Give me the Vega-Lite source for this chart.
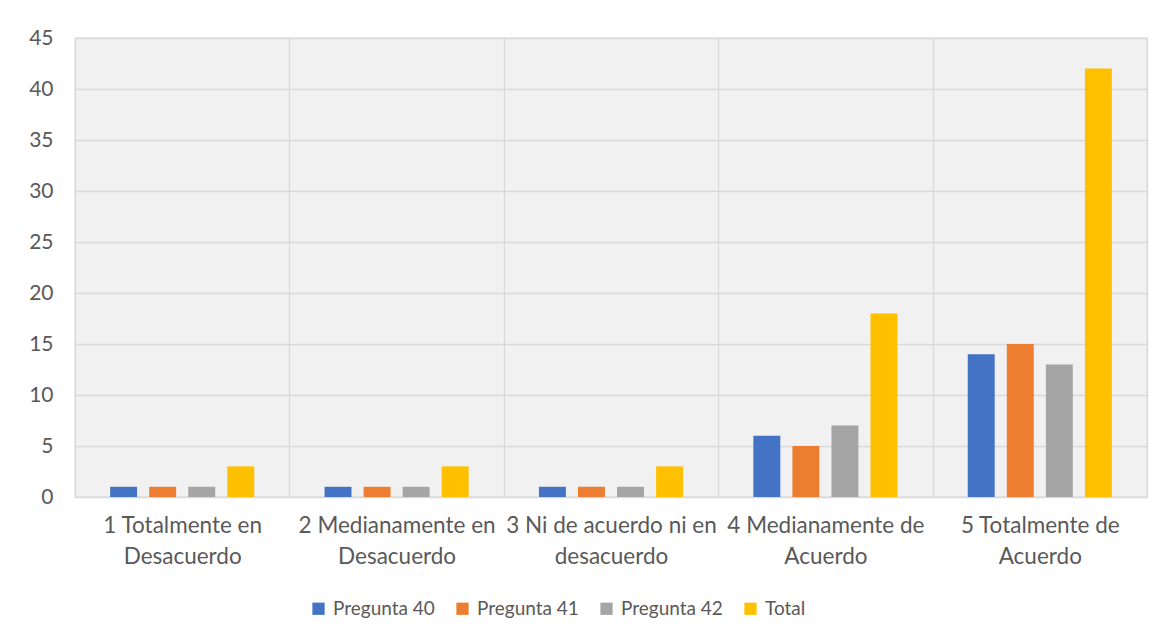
{
  "$schema": "https://vega.github.io/schema/vega-lite/v6.json",
  "width": 1072,
  "height": 459,
  "autosize": {"type": "none"},
  "padding": {"left": 75, "top": 38, "right": 15, "bottom": 146},
  "background": "white",
  "data": {
    "values": [
      {"categoria": "1 Totalmente en Desacuerdo", "serie": "Pregunta 40", "valor": 1},
      {"categoria": "1 Totalmente en Desacuerdo", "serie": "Pregunta 41", "valor": 1},
      {"categoria": "1 Totalmente en Desacuerdo", "serie": "Pregunta 42", "valor": 1},
      {"categoria": "1 Totalmente en Desacuerdo", "serie": "Total", "valor": 3},
      {"categoria": "2 Medianamente en Desacuerdo", "serie": "Pregunta 40", "valor": 1},
      {"categoria": "2 Medianamente en Desacuerdo", "serie": "Pregunta 41", "valor": 1},
      {"categoria": "2 Medianamente en Desacuerdo", "serie": "Pregunta 42", "valor": 1},
      {"categoria": "2 Medianamente en Desacuerdo", "serie": "Total", "valor": 3},
      {"categoria": "3 Ni de acuerdo ni en desacuerdo", "serie": "Pregunta 40", "valor": 1},
      {"categoria": "3 Ni de acuerdo ni en desacuerdo", "serie": "Pregunta 41", "valor": 1},
      {"categoria": "3 Ni de acuerdo ni en desacuerdo", "serie": "Pregunta 42", "valor": 1},
      {"categoria": "3 Ni de acuerdo ni en desacuerdo", "serie": "Total", "valor": 3},
      {"categoria": "4 Medianamente de Acuerdo", "serie": "Pregunta 40", "valor": 6},
      {"categoria": "4 Medianamente de Acuerdo", "serie": "Pregunta 41", "valor": 5},
      {"categoria": "4 Medianamente de Acuerdo", "serie": "Pregunta 42", "valor": 7},
      {"categoria": "4 Medianamente de Acuerdo", "serie": "Total", "valor": 18},
      {"categoria": "5 Totalmente de Acuerdo", "serie": "Pregunta 40", "valor": 14},
      {"categoria": "5 Totalmente de Acuerdo", "serie": "Pregunta 41", "valor": 15},
      {"categoria": "5 Totalmente de Acuerdo", "serie": "Pregunta 42", "valor": 13},
      {"categoria": "5 Totalmente de Acuerdo", "serie": "Total", "valor": 42}
    ]
  },
  "mark": {"type": "bar"},
  "encoding": {
    "x": {
      "field": "categoria",
      "type": "nominal",
      "sort": null,
      "scale": {"paddingInner": 0, "paddingOuter": 0},
      "axis": {
        "title": null,
        "labelAngle": 0,
        "grid": true,
        "tickBand": "extent",
        "gridColor": "#d9d9d9",
        "gridWidth": 1.3,
        "domain": false,
        "ticks": false,
        "labelExpr": "[slice(datum.label, 0, lastindexof(datum.label, ' ')), slice(datum.label, lastindexof(datum.label, ' ') + 1)]",
        "labelFont": "Lato",
        "labelFontSize": 22.5,
        "labelColor": "#595959",
        "labelPadding": 17,
        "labelLineHeight": 31,
        "labelBaseline": "top",
        "labelLimit": 300
      }
    },
    "xOffset": {
      "field": "serie",
      "sort": null,
      "scale": {"paddingInner": 0.31, "paddingOuter": 0.9}
    },
    "y": {
      "field": "valor",
      "type": "quantitative",
      "scale": {"domain": [0, 45], "nice": false},
      "axis": {
        "title": null,
        "values": [0, 5, 10, 15, 20, 25, 30, 35, 40, 45],
        "grid": true,
        "gridColor": "#d9d9d9",
        "gridWidth": 1.3,
        "domain": false,
        "ticks": false,
        "labelFont": "Lato",
        "labelFontSize": 21,
        "labelColor": "#595959",
        "labelPadding": 22
      }
    },
    "color": {
      "field": "serie",
      "type": "nominal",
      "sort": null,
      "scale": {
        "domain": ["Pregunta 40", "Pregunta 41", "Pregunta 42", "Total"],
        "range": ["#4472C4", "#ED7D31", "#A5A5A5", "#FFC000"]
      },
      "legend": {
        "title": null,
        "orient": "none",
        "direction": "horizontal",
        "legendX": 234,
        "legendY": 561,
        "symbolType": "square",
        "symbolSize": 150,
        "symbolStrokeWidth": 0,
        "labelFont": "Lato",
        "labelFontSize": 19,
        "labelColor": "#595959",
        "labelOffset": 5,
        "columnPadding": 18
      }
    }
  },
  "config": {
    "view": {"stroke": "#d9d9d9", "strokeWidth": 1.3, "fill": "#f1f1f1"}
  }
}
